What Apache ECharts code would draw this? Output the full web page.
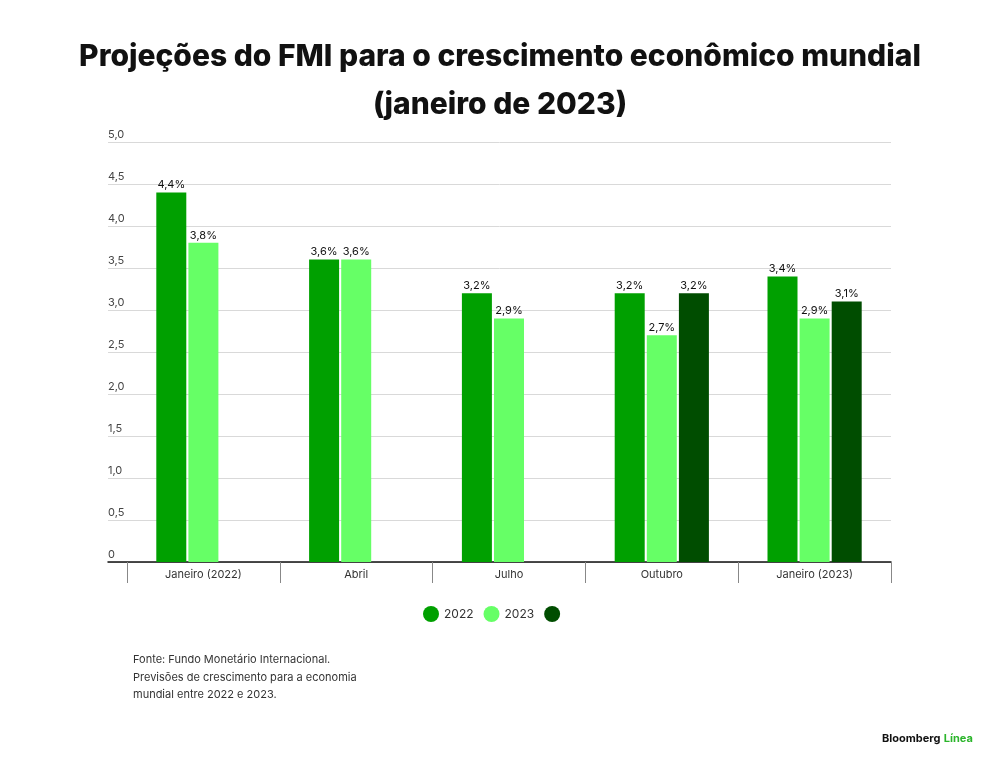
<!DOCTYPE html>
<html>
<head>
<meta charset="utf-8">
<script src="https://cdn.jsdelivr.net/npm/echarts@6/dist/echarts.min.js"></script>
<style>
  html, body { margin: 0; padding: 0; background: #fff; }
  #chart { width: 1000px; height: 767px; }
</style>
</head>
<body>
<div id="chart"></div>
<script>
// dados
let categorias = ["Janeiro (2022)", "Abril", "Julho", "Outubro", "Janeiro (2023)"];
let serie2022 = [4.4, 3.6, 3.2, 3.2, 3.4];
let serie2023 = [3.8, 3.6, 2.9, 2.7, 2.9];
let serie2024 = [null, null, null, 3.2, 3.1];
let nomes = ["2022", "2023", " "];
let cores = ["#00a000", "#66ff66", "#004d00"];

let myChar = echarts.init(document.getElementById("chart"));
let fonte = "Inter, 'Noto Sans', sans-serif";

let rotulo = {
    show: true,
    position: "top",
    distance: 2,
    color: "#111",
    fontSize: 11,
    fontFamily: fonte,
    formatter: (p) => p.value.toFixed(1).replace(".", ",") + "%"
};

function serie(i, dados){
    return {
        name: nomes[i],
        type: "bar",
        xAxisIndex: 0,
        yAxisIndex: 0,
        data: dados,
        barWidth: 30,
        barGap: "7%",
        itemStyle: { color: cores[i] },
        label: rotulo
    };
}

myChar.setOption({
    animation: false,
    textStyle: { fontFamily: fonte },
    title: {
        text: "Projeções do FMI para o crescimento econômico mundial\n(janeiro de 2023)",
        left: "center",
        top: 28,
        textStyle: {
            fontSize: 30,
            fontWeight: 800,
            lineHeight: 48,
            color: "#111",
            fontFamily: fonte
        }
    },
    legend: {
        data: nomes,
        bottom: 140,
        left: 418,
        icon: "circle",
        itemWidth: 16,
        itemHeight: 16,
        itemGap: 10,
        textStyle: { fontSize: 12, color: "#333" }
    },
    grid: [
        { left: 127, right: 109, top: 142, bottom: 205 },
        { left: 108, right: 109, top: 142, bottom: 205 }
    ],
    xAxis: [
        {
            type: "category",
            gridIndex: 0,
            data: categorias,
            axisLine: { show: false },
            axisTick: { show: true, length: 21, lineStyle: { color: "#888" } },
            axisLabel: { color: "#333", fontSize: 11, margin: 7, interval: 0 }
        },
        {
            type: "value",
            gridIndex: 1,
            show: true,
            axisLine: { show: true, onZero: false, lineStyle: { color: "#111", width: 1.5 } },
            axisTick: { show: false },
            axisLabel: { show: false },
            splitLine: { show: false }
        }
    ],
    yAxis: [
        {
            type: "value",
            gridIndex: 0,
            min: 0,
            max: 5,
            interval: 0.5,
            axisLine: { show: false },
            axisTick: { show: false },
            axisLabel: { show: false },
            splitLine: { show: false }
        },
        {
            type: "value",
            gridIndex: 1,
            min: 0,
            max: 5,
            interval: 0.5,
            axisLine: { show: false },
            axisTick: { show: false },
            axisLabel: {
                color: "#444",
                fontSize: 11,
                align: "left",
                verticalAlign: "bottom",
                margin: 0,
                padding: [0, 0, 2, 0],
                formatter: (v) => v === 0 ? "0" : v.toFixed(1).replace(".", ",")
            },
            splitLine: { show: true, lineStyle: { color: "#d9d9d9" } }
        }
    ],
    graphic: [
        {
            type: "text",
            left: 133,
            top: 651,
            style: {
                text: "Fonte: Fundo Monetário Internacional.\nPrevisões de crescimento para a economia\nmundial entre 2022 e 2023.",
                font: "11px " + fonte,
                lineHeight: 17.5,
                fill: "#333"
            }
        },
        {
            type: "text",
            left: 882,
            top: 733,
            style: {
                rich: {
                    b: { fontSize: 11, fontWeight: "bold", fill: "#111", fontFamily: fonte },
                    l: { fontSize: 11, fontWeight: "bold", fill: "#2bb52b", fontFamily: fonte }
                },
                text: "{b|Bloomberg} {l|Línea}"
            }
        }
    ],
    series: [
        serie(0, serie2022),
        serie(1, serie2023),
        serie(2, serie2024)
    ]
});
</script>
</body>
</html>
